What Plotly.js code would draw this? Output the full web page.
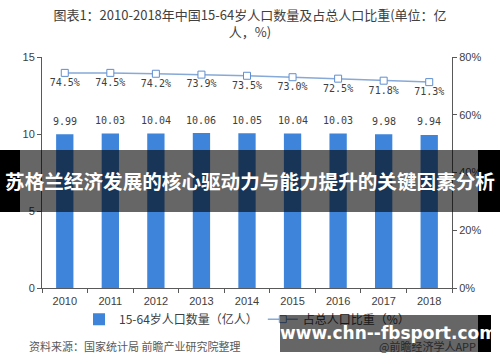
<!DOCTYPE html>
<html>
<head>
<meta charset="utf-8">
<script src="https://cdn.plot.ly/plotly-3.0.1.min.js"></script>
<style>
html,body{margin:0;padding:0;background:#fff;}
#wrap{position:relative;width:500px;height:362px;overflow:hidden;}
#chart{position:absolute;left:0;top:0;width:500px;height:362px;}
.band{position:absolute;}
#midBand{left:20px;top:150px;width:458px;height:62px;background:rgba(0,0,0,0.6);}
#midL{left:0;top:150px;width:20px;height:62px;background:#000;}
#midR{left:478px;top:150px;width:22px;height:62px;background:#000;}
#midText{position:absolute;left:0;top:150px;width:500px;height:62px;line-height:62px;text-align:center;color:#fff;font-family:"Noto Sans CJK SC",sans-serif;font-weight:bold;font-size:19.6px;white-space:nowrap;letter-spacing:0px;}
#botBand{left:280px;top:315px;width:198px;height:37px;background:rgba(0,0,0,0.6);}
#botR{left:478px;top:315px;width:13px;height:37px;background:#000;}
#botText{position:absolute;left:280px;top:315px;width:206px;height:37px;line-height:36px;text-align:center;color:#fff;font-family:"DejaVu Sans","Liberation Sans",sans-serif;font-weight:bold;font-size:17px;white-space:nowrap;}
</style>
</head>
<body>
<div id="wrap">
<div id="chart"></div>
<div class="band" id="midL"></div>
<div class="band" id="midBand"></div>
<div class="band" id="midR"></div>
<div id="midText">苏格兰经济发展的核心驱动力与能力提升的关键因素分析</div>
<div class="band" id="botBand"></div>
<div class="band" id="botR"></div>
<div id="botText">www.chn--fbsport.com</div>
</div>
<script>
var years = ['2010','2011','2012','2013','2014','2015','2016','2017','2018'];
var population = [9.99, 10.03, 10.04, 10.06, 10.05, 10.04, 10.03, 9.98, 9.94];
var share = [0.745, 0.745, 0.742, 0.739, 0.735, 0.730, 0.725, 0.718, 0.713];
var popLabels = ['9.99','10.03','10.04','10.06','10.05','10.04','10.03','9.98','9.94'];
var shareLabels = ['74.5%','74.5%','74.2%','73.9%','73.5%','73.0%','72.5%','71.8%','71.3%'];
var titleText = '图表1：2010-2018年中国15-64岁人口数量及占总人口比重(单位：亿<br>人，%)';
var barName = '15-64岁人口数量（亿人）';
var lineName = '占总人口比重（%）';
var sourceText = '资料来源：国家统计局 前瞻产业研究院整理';
var creditText = '@前瞻经济学人APP';

var fontMain = 'Liberation Sans, Noto Sans CJK SC, sans-serif';
var fontCJK = 'Noto Sans CJK SC, sans-serif';
var fontLabel = 'DejaVu Sans Mono, monospace';

var barTrace = {
  type: 'bar', x: years, y: population, name: barName,
  marker: {color: '#3D84DA'}, width: 0.38, yaxis: 'y', hoverinfo: 'none'
};
var lineTrace = {
  type: 'scatter', mode: 'lines+markers+text', x: years, y: share, name: lineName,
  yaxis: 'y2', line: {color: '#86A9D8', width: 1.5},
  marker: {symbol: 'square', size: 7, color: '#ffffff', line: {color: '#5F8ED0', width: 1}},
  text: shareLabels, textposition: 'bottom center',
  textfont: {family: fontLabel, size: 10, color: '#404040'}, hoverinfo: 'none'
};

// bar value labels: annotation x is the category index of each year
var annotations = population.map(function(v, i){
  return {x: years.indexOf(years[i]), y: v, xref: 'x', yref: 'y', text: popLabels[i], showarrow: false,
    yshift: 13, font: {family: fontLabel, size: 10, color: '#404040'}};
});
annotations.push({xref: 'paper', yref: 'paper', x: -0.037, y: -0.251, xanchor: 'left', yanchor: 'middle',
  text: sourceText, showarrow: false, font: {family: fontCJK, size: 11, color: '#595959'}});
annotations.push({xref: 'paper', yref: 'paper', x: 1.063, y: -0.251, xanchor: 'right', yanchor: 'middle',
  text: creditText, showarrow: false, font: {family: fontCJK, size: 11, color: '#666666'}});

var layout = {
  width: 500, height: 362,
  margin: {l: 42, r: 48, t: 57, b: 74, pad: 0},
  paper_bgcolor: '#ffffff', plot_bgcolor: '#ffffff',
  showlegend: true,
  title: {text: titleText, x: 0.5, xanchor: 'center', y: 0.944, yanchor: 'top', yref: 'container',
    font: {family: fontCJK, size: 13, color: '#404040'}},
  xaxis: {type: 'category', range: [-0.5, years.length - 0.5], autorange: false,
    showline: true, linecolor: '#595959', linewidth: 1,
    ticks: 'outside', ticklen: 4, tickcolor: '#595959', tickson: 'boundaries', ticklabelstandoff: 3,
    tickfont: {family: fontMain, size: 11, color: '#404040'}, showgrid: false, zeroline: false},
  yaxis: {range: [0, 15], dtick: 5, showline: true, linecolor: '#595959', linewidth: 1,
    ticks: 'outside', ticklen: 4, tickcolor: '#595959', showgrid: false, zeroline: false,
    tickfont: {family: fontMain, size: 11, color: '#404040'}},
  yaxis2: {overlaying: 'y', side: 'right', range: [0, 0.8], dtick: 0.2, tickformat: '.0%',
    showline: true, linecolor: '#595959', linewidth: 1, ticks: 'outside', ticklen: 4, tickcolor: '#595959',
    showgrid: false, zeroline: false, tickfont: {family: fontMain, size: 11, color: '#404040'}},
  legend: {orientation: 'h', x: 0.5, xanchor: 'center', y: -0.072, yanchor: 'top',
    font: {family: fontCJK, size: 12, color: '#404040'}, bgcolor: 'rgba(0,0,0,0)', itemwidth: 30},
  annotations: annotations
};

Plotly.newPlot('chart', [barTrace, lineTrace], layout, {displayModeBar: false, staticPlot: true});
</script>
</body>
</html>
